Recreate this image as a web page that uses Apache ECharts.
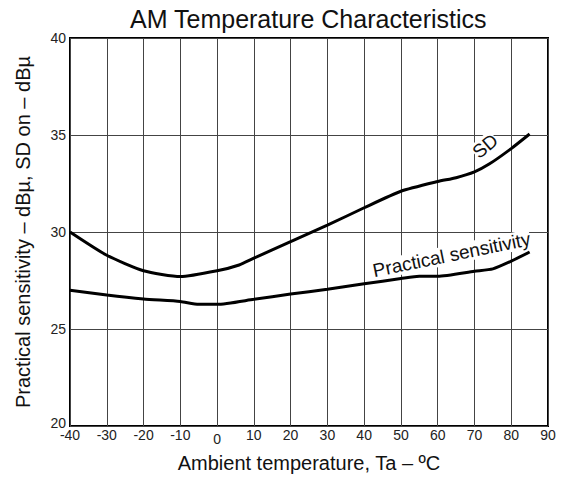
<!DOCTYPE html>
<html>
<head>
<meta charset="utf-8">
<script src="https://cdn.jsdelivr.net/npm/echarts@6/dist/echarts.min.js"></script>
<style>
html,body{margin:0;padding:0;background:#fff;}
#chart{width:562px;height:478px;}
</style>
</head>
<body>
<div id="chart"></div>
<script>
// Data
const tempSD   = [-40, -30, -20, -10, 0, 6, 10, 20, 30, 40, 50, 60, 65, 70, 74, 80, 85];
const valuesSD = [30.0, 28.8, 28.0, 27.7, 28.0, 28.3, 28.65, 29.5, 30.35, 31.25, 32.1, 32.6, 32.8, 33.1, 33.5, 34.3, 35.05];
const tempPS   = [-40, -30, -20, -10, -5, 0, 10, 20, 30, 40, 50, 55, 60, 70, 75, 80, 85];
const valuesPS = [27.0, 26.75, 26.55, 26.42, 26.27, 26.27, 26.53, 26.8, 27.05, 27.33, 27.6, 27.72, 27.72, 27.98, 28.1, 28.5, 28.97];
const xTicks = [-40, -30, -20, -10, 0, 10, 20, 30, 40, 50, 60, 70, 80, 90];
const yTicks = [20, 25, 30, 35, 40];

const titleText = 'AM Temperature Characteristics';
const xName = 'Ambient temperature, Ta – ºC';
const yName = 'Practical sensitivity – dBµ, SD on – dBµ';
const sdLabel = 'SD';
const psLabel = 'Practical sensitivity';
// annotation anchors (data coordinates)
const sdAnchor = [72.9, 34.43];
const psAnchor = [63.8, 28.83];

const FONT = '"Liberation Sans", Arial, sans-serif';
const chart = echarts.init(document.getElementById('chart'), null, {renderer: 'svg'});

function pairs(xs, ys){ return xs.map((x, i) => [x, ys[i]]); }
const tickStyle = {fontFamily: FONT, fontSize: 14, color: '#222'};

const option = {
  animation: false,
  backgroundColor: '#fff',
  title: {
    text: titleText,
    left: 125, top: 1,
    textStyle: {fontFamily: FONT, fontSize: 25, fontWeight: 'normal', color: '#111'}
  },
  grid: {left: 70, right: 14, top: 38, bottom: 48.5, show: true, borderColor: '#000', borderWidth: 2, backgroundColor: 'transparent'},
  xAxis: {
    type: 'value', min: xTicks[0], max: xTicks[xTicks.length - 1], interval: 10,
    name: xName, nameLocation: 'middle', nameGap: 27,
    nameTextStyle: {fontFamily: FONT, fontSize: 20, color: '#111'},
    axisLine: {show: false}, axisTick: {show: false},
    axisLabel: Object.assign({margin: 2,
      formatter: v => v === 0 ? '{zero|0}' : String(v),
      rich: {zero: Object.assign({padding: [4, 0, 0, 0]}, tickStyle)}}, tickStyle),
    splitLine: {show: true, lineStyle: {color: '#444', width: 1}}
  },
  yAxis: {
    type: 'value', min: yTicks[0], max: yTicks[yTicks.length - 1], interval: 5,
    name: yName, nameLocation: 'middle', nameGap: 37, nameRotate: 90,
    nameTextStyle: {fontFamily: FONT, fontSize: 20, color: '#111'},
    axisLine: {show: false}, axisTick: {show: false},
    axisLabel: Object.assign({margin: 4,
      formatter: v => v === yTicks[0] ? '{low|' + v + '}' : String(v),
      rich: {low: Object.assign({padding: [0, 0, 6, 0]}, tickStyle)}}, tickStyle),
    splitLine: {show: true, lineStyle: {color: '#444', width: 1}}
  },
  series: [
    {name: 'SD', type: 'line', data: pairs(tempSD, valuesSD), showSymbol: false, symbol: 'none',
     smooth: 0.2, lineStyle: {color: '#000', width: 3}},
    {name: 'Practical sensitivity', type: 'line', data: pairs(tempPS, valuesPS), showSymbol: false, symbol: 'none',
     smooth: 0.2, lineStyle: {color: '#000', width: 3}}
  ]
};
chart.setOption(option);

const sdPx = chart.convertToPixel({gridIndex: 0}, sdAnchor);
const psPx = chart.convertToPixel({gridIndex: 0}, psAnchor);
chart.setOption({
  graphic: [
    {type: 'text', x: sdPx[0], y: sdPx[1], rotation: 40 * Math.PI / 180,
     style: {text: sdLabel, font: '19px ' + FONT, fill: '#111', align: 'center', verticalAlign: 'middle',
             backgroundColor: '#fff'}},
    {type: 'text', x: psPx[0], y: psPx[1], rotation: 11.6 * Math.PI / 180,
     style: {text: psLabel, font: '19px ' + FONT, fill: '#111', align: 'center', verticalAlign: 'middle',
             backgroundColor: '#fff'}}
  ]
});
</script>
</body>
</html>
